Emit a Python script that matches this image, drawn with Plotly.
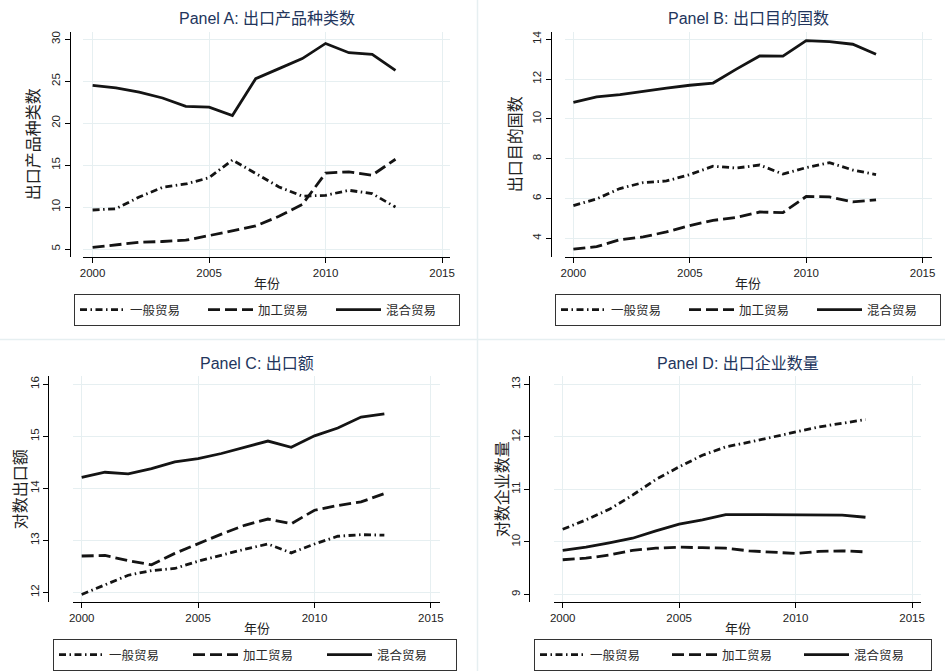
import plotly.graph_objects as go

W, H = 945, 671
FONT = "Liberation Sans, Noto Sans CJK SC, sans-serif"

years = list(range(2000, 2014))
series_names = ["一般贸易", "加工贸易", "混合贸易"]

# Panel A: 出口产品种类数
a_general = [9.65, 9.8, 11.2, 12.35, 12.75, 13.5, 15.6, 14.0, 12.4, 11.3, 11.4, 12.0, 11.6, 10.0]
a_processing = [5.2, 5.5, 5.8, 5.9, 6.05, 6.6, 7.2, 7.75, 8.9, 10.3, 14.05, 14.2, 13.8, 15.7]
a_mixed = [24.5, 24.2, 23.7, 23.0, 22.0, 21.9, 20.9, 25.3, 26.5, 27.7, 29.5, 28.4, 28.2, 26.3]

# Panel B: 出口目的国数
b_general = [5.64, 5.98, 6.5, 6.8, 6.88, 7.2, 7.62, 7.53, 7.68, 7.23, 7.55, 7.8, 7.43, 7.2]
b_processing = [3.46, 3.58, 3.93, 4.07, 4.32, 4.64, 4.9, 5.05, 5.32, 5.29, 6.1, 6.08, 5.83, 5.93]
b_mixed = [10.83, 11.1, 11.22, 11.4, 11.55, 11.69, 11.8, 12.5, 13.16, 13.15, 13.93, 13.88, 13.75, 13.25]

# Panel C: 出口额 (对数)
c_general = [11.96, 12.15, 12.33, 12.42, 12.46, 12.6, 12.72, 12.83, 12.93, 12.76, 12.93, 13.08, 13.11, 13.1]
c_processing = [12.7, 12.71, 12.61, 12.53, 12.75, 12.94, 13.12, 13.29, 13.41, 13.32, 13.58, 13.67, 13.74, 13.9]
c_mixed = [14.21, 14.31, 14.28, 14.38, 14.51, 14.57, 14.67, 14.79, 14.91, 14.79, 15.01, 15.16, 15.37, 15.43]

# Panel D: 出口企业数量 (对数)
d_general = [10.24, 10.42, 10.62, 10.89, 11.19, 11.43, 11.65, 11.81, 11.9, 12.0, 12.09, 12.19, 12.26, 12.33]
d_processing = [9.66, 9.69, 9.75, 9.84, 9.88, 9.9, 9.89, 9.88, 9.83, 9.8, 9.78, 9.82, 9.83, 9.81]
d_mixed = [9.84, 9.9, 9.98, 10.07, 10.21, 10.34, 10.42, 10.52, 10.52, 10.52, 10.52, 10.52, 10.51, 10.47]

x_ticks = [2000, 2005, 2010, 2015]
a_yticks = [5, 10, 15, 20, 25, 30]
b_yticks = [4, 6, 8, 10, 12, 14]
c_yticks = [12, 13, 14, 15, 16]
d_yticks = [9, 10, 11, 12, 13]

titles = ["Panel A: 出口产品种类数", "Panel B: 出口目的国数", "Panel C: 出口额", "Panel D: 出口企业数量"]
ytitles = ["出口产品种类数", "出口目的国数", "对数出口额", "对数企业数量"]
xtitle = "年份"


def px(v):
    return v / W


def py(v):
    return 1 - v / H


panels = [
    dict(data=(a_general, a_processing, a_mixed), yticks=a_yticks,
         xdom=(83.3, 450), ydom=(31.7, 257), ypos=70, xr=(1999.6, 2015.34), yr=(4.05, 30.9),
         title_xy=(266.7, 18), xt_y=283, yt_x=33, leg=(74, 310), ew=68),
    dict(data=(b_general, b_processing, b_mixed), yticks=b_yticks,
         xdom=(565, 931.7), ydom=(31.7, 257), ypos=551, xr=(1999.64, 2015.39), yr=(3.06, 14.38),
         title_xy=(748, 18), xt_y=283, yt_x=515, leg=(555, 310), ew=68),
    dict(data=(c_general, c_processing, c_mixed), yticks=c_yticks,
         xdom=(73.3, 440), ydom=(376, 602.3), ypos=48.3, xr=(1999.64, 2015.39), yr=(11.81, 16.16),
         title_xy=(257, 363), xt_y=628, yt_x=20, leg=(53, 655), ew=74),
    dict(data=(d_general, d_processing, d_mixed), yticks=d_yticks,
         xdom=(554.3, 920.7), ydom=(376, 602.3), ypos=529.3, xr=(1999.64, 2015.37), yr=(8.85, 13.16),
         title_xy=(737.5, 363), xt_y=628, yt_x=502, leg=(534, 655), ew=72),
]

dashes = ["7px,3.5px,1.5px,3.5px", "12px,5px", "solid"]
LINE_COLOR = "#141414"
GRID = "#e6eff1"

fig = go.Figure()
layout = dict(
    width=W, height=H, margin=dict(l=0, r=0, t=0, b=0, autoexpand=False),
    paper_bgcolor="white", plot_bgcolor="white",
    font=dict(family=FONT, color="#222"),
    annotations=[], shapes=[],
)

for i, p in enumerate(panels):
    n = "" if i == 0 else str(i + 1)
    legname = "legend" if i == 0 else "legend" + n
    for s, (vals, name) in enumerate(zip(p["data"], series_names)):
        fig.add_trace(go.Scatter(
            x=years, y=vals, mode="lines", name=name,
            line=dict(color=LINE_COLOR, width=2.8, dash=dashes[s]),
            xaxis="x" + n, yaxis="y" + n, legend=legname,
        ))
    layout["xaxis" + n] = dict(
        domain=[px(p["xdom"][0]), px(p["xdom"][1])], anchor="y" + n,
        range=list(p["xr"]), tickvals=x_ticks, showgrid=True, gridcolor=GRID, gridwidth=1,
        showline=True, linecolor="black", linewidth=1, ticks="outside", ticklen=5,
        tickcolor="black", tickfont=dict(size=11.5, color="#222"), zeroline=False,
    )
    layout["yaxis" + n] = dict(
        domain=[py(p["ydom"][1]), py(p["ydom"][0])], anchor="free", position=px(p["ypos"]),
        range=list(p["yr"]), tickvals=p["yticks"], showgrid=True, gridcolor=GRID, gridwidth=1,
        showline=True, linecolor="black", linewidth=1, ticks="outside", ticklen=5,
        tickcolor="black", tickfont=dict(size=11.5, color="#222"), tickangle=-90, zeroline=False,
    )
    layout[legname] = dict(
        orientation="h", x=px(p["leg"][0]), y=py(p["leg"][1]), xanchor="left", yanchor="middle",
        bordercolor="#333", borderwidth=1, bgcolor="white",
        font=dict(size=12.5, color="#2a2a2a", family=FONT),
        entrywidth=p["ew"], entrywidthmode="pixels", itemwidth=45,
    )
    tx, ty = p["title_xy"]
    layout["annotations"].append(dict(
        text=titles[i], x=px(tx), y=py(ty), xref="paper", yref="paper",
        showarrow=False, xanchor="center", yanchor="middle",
        font=dict(size=16, color="#22355c", family=FONT),
    ))
    cx = (p["xdom"][0] + p["xdom"][1]) / 2
    layout["annotations"].append(dict(
        text=xtitle, x=px(cx), y=py(p["xt_y"]), xref="paper", yref="paper",
        showarrow=False, xanchor="center", yanchor="middle",
        font=dict(size=13, color="#222", family=FONT),
    ))
    cy = (p["ydom"][0] + p["ydom"][1]) / 2
    layout["annotations"].append(dict(
        text=ytitles[i], x=px(p["yt_x"]), y=py(cy), xref="paper", yref="paper",
        showarrow=False, xanchor="center", yanchor="middle", textangle=-90,
        font=dict(size=16, color="#222", family=FONT),
    ))

# faint panel separators
layout["shapes"].append(dict(type="line", xref="paper", yref="paper",
                             x0=px(477.5), x1=px(477.5), y0=0, y1=1,
                             line=dict(color=GRID, width=1.5)))
layout["shapes"].append(dict(type="line", xref="paper", yref="paper",
                             x0=0, x1=1, y0=py(339.5), y1=py(339.5),
                             line=dict(color=GRID, width=1.5)))

fig.update_layout(**layout)
fig.write_html(
    "out.html",
    config={"displayModeBar": False},
    post_script="document.body.style.margin='0';document.body.style.padding='0';"
                "document.documentElement.style.overflow='hidden';",
)
